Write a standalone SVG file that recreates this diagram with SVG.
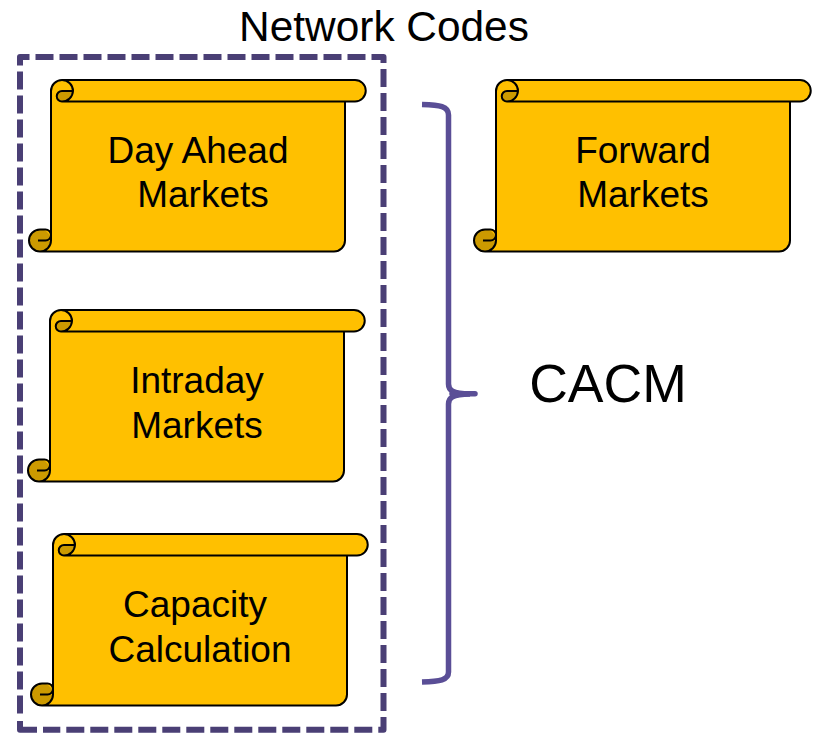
<svg xmlns="http://www.w3.org/2000/svg" width="817" height="733" viewBox="0 0 817 733">
<style>
text{font-family:"Liberation Sans",Arial,sans-serif;fill:#000;text-anchor:middle}
.n{font-size:37px}
.o{fill:#ffc000;stroke:none}
.d{fill:#cc9a00;stroke:none}
.l{fill:none;stroke:#000;stroke-width:2;stroke-linejoin:round}
.f{fill:none;stroke:#4a3f75;stroke-width:6;stroke-linejoin:round}
.b{fill:none;stroke:#5a4e96;stroke-width:5.500}
</style>
<defs>
<g id="scroll">
<path class="o" d="M51 230V91A11 11 0 0 1 62 80H355A10.750 10.750 0 0 1 355 101.500H345V240.500A11 11 0 0 1 334 251.500H40A11 11 0 0 1 40 229.500Z"/>
<path class="d" d="M73 91A11 11 0 0 1 62 101.500A5.250 5.250 0 0 1 62 91Z"/>
<circle class="d" cx="40" cy="240.500" r="11"/>
<path class="o" d="M46 230H51V240.500H46A5 5 0 0 0 46 230Z"/>
<path class="l" d="M51 230V91A11 11 0 0 1 73 91A11 11 0 0 1 62 101.500A5.250 5.250 0 0 1 62 91H73M62 80H355A10.750 10.750 0 0 1 355 101.500H62M345 101.500V240.500A11 11 0 0 1 334 251.500H40A11 11 0 0 1 40 229.500H45.500A5.500 5.500 0 0 1 45.500 240.500H38M51 230V240.500A11 11 0 0 1 40 251.500"/>
</g>
</defs>
<g id="connectors">
<path class="b" d="M422 104.500C440 105 448.500 106 448.500 115V384C448.500 390 452 393.500 470 394C452 394.500 448.500 398 448.500 404V672C448.500 680 440 681.500 422 682"/>
<path class="b" d="M452 393.800H475" stroke-linecap="round"/>
</g>
<g id="network-codes-frame">
<path class="f" d="M20 713.500V57H383.500V729.800H43" stroke-dasharray="18 6"/>
<path class="f" d="M37 729.800H20V721"/>
</g>
<g id="title"><text x="384" y="41" font-size="42.400">Network Codes</text></g>
<g id="day-ahead">
<use href="#scroll"/>
<text class="n" x="198" y="163">Day Ahead</text>
<text class="n" x="203" y="207">Markets</text>
</g>
<g id="intraday">
<use href="#scroll" transform="translate(-1 230)"/>
<text class="n" x="197" y="393">Intraday</text>
<text class="n" x="197" y="438">Markets</text>
</g>
<g id="capacity">
<use href="#scroll" transform="translate(2 454)"/>
<text class="n" x="195" y="617">Capacity</text>
<text class="n" x="200" y="662">Calculation</text>
</g>
<g id="forward">
<use href="#scroll" transform="translate(445 0)"/>
<text class="n" x="643" y="163">Forward</text>
<text class="n" x="643" y="207">Markets</text>
</g>
<g id="cacm"><text x="608" y="402" font-size="53.500">CACM</text></g>
</svg>
